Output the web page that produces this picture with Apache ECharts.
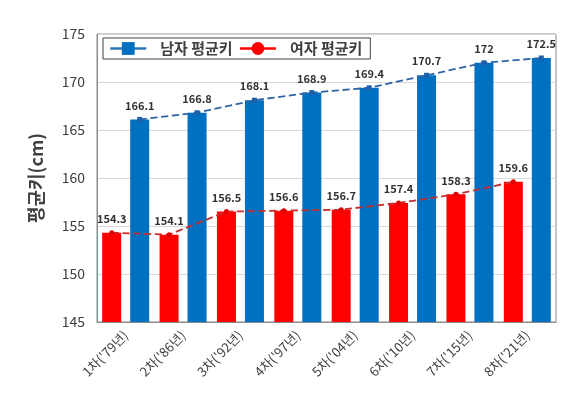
<!DOCTYPE html>
<html><head><meta charset="utf-8">
<script src="https://cdn.jsdelivr.net/npm/echarts@6/dist/echarts.min.js"></script>
<style>html,body{margin:0;padding:0;background:#fff}#c{width:566px;height:405px}</style>
</head><body><div id="c"></div>
<script>
const categories = ["1차('79년)","2차('86년)","3차('92년)","4차('97년)","5차('04년)","6차('10년)","7차('15년)","8차('21년)"];
const maleHeights = [166.1,166.8,168.1,168.9,169.4,170.7,172,172.5];
const femaleHeights = [154.3,154.1,156.5,156.6,156.7,157.4,158.3,159.6];
const yTicks = {min:145,max:175,interval:5};

const W = 566, GL = 97, GR = 10, GT = 34, GB = 83;
const BAR_W = 19, BAR_GAP = 9;
const catW = (W - GL - GR) / categories.length;
const off = (BAR_W + BAR_GAP) / 2 / catW;

const font = "'Noto Sans CJK KR','Noto Sans',sans-serif";
const chart = echarts.init(document.getElementById('c'));
chart.setOption({
  animation:false,
  textStyle:{fontFamily:font},
  grid:{left:GL,right:GR,top:GT,bottom:GB,show:true,borderColor:'#8c8c8c',borderWidth:1},
  legend:{
    left:103, top:38, padding:[3,8,3,6], borderColor:'#404040', borderWidth:1,
    itemWidth:36, itemHeight:16, itemGap:6,
    textStyle:{fontSize:15,fontWeight:'bold',color:'#404040',fontFamily:font,padding:[0,0,0,9]},
    data:[
      {name:'남자 평균키', lineStyle:{type:'solid',width:2.5,color:'#2e75b6'}, itemStyle:{color:'#0070c0'}},
      {name:'여자 평균키', lineStyle:{type:'solid',width:2.5,color:'#ff0000'}, itemStyle:{color:'#ff0000'}}
    ]
  },
  xAxis:[
    {type:'category',data:categories,
     axisLine:{show:true,lineStyle:{color:'#8c8c8c'}},axisTick:{show:false},
     axisLabel:{rotate:45,fontSize:13,color:'#404040',margin:11,interval:0}},
    {type:'value',min:-0.5,max:categories.length-0.5,show:false}
  ],
  yAxis:{type:'value',min:yTicks.min,max:yTicks.max,interval:yTicks.interval,
    name:'평균키(cm)',nameLocation:'middle',nameGap:52,
    nameTextStyle:{fontSize:18,fontWeight:'bold',color:'#404040'},
    axisLine:{show:true,onZero:false,lineStyle:{color:'#8c8c8c'}},axisTick:{show:false},
    axisLabel:{fontSize:14,color:'#404040',margin:12},
    splitLine:{lineStyle:{color:'#d9d9d9'}}},
  series:[
    {name:'여자',type:'bar',data:femaleHeights,barWidth:BAR_W,barGap:(BAR_GAP/BAR_W*100)+'%',
     itemStyle:{color:'#ff0000'}},
    {name:'남자',type:'bar',data:maleHeights,barWidth:BAR_W,
     itemStyle:{color:'#0070c0'}},
    {name:'남자 평균키',type:'line',xAxisIndex:1,z:5,
     data:maleHeights.map((v,i)=>[i+off,v]),
     symbol:'rect',symbolSize:5,itemStyle:{color:'#1f5fa8'},
     lineStyle:{type:'dashed',width:1.8,color:'#2f64a5'},
     label:{show:true,position:'top',distance:6,fontSize:11,fontWeight:'bold',color:'#333',
       formatter:p=>p.value[1]}},
    {name:'여자 평균키',type:'line',xAxisIndex:1,z:5,
     data:femaleHeights.map((v,i)=>[i-off,v]),
     symbol:'circle',symbolSize:5,itemStyle:{color:'#e00000'},
     lineStyle:{type:'dashed',width:1.8,color:'#c43030'},
     label:{show:true,position:'top',distance:6,fontSize:11,fontWeight:'bold',color:'#333',
       formatter:p=>p.value[1]}}
  ]
});
</script></body></html>
